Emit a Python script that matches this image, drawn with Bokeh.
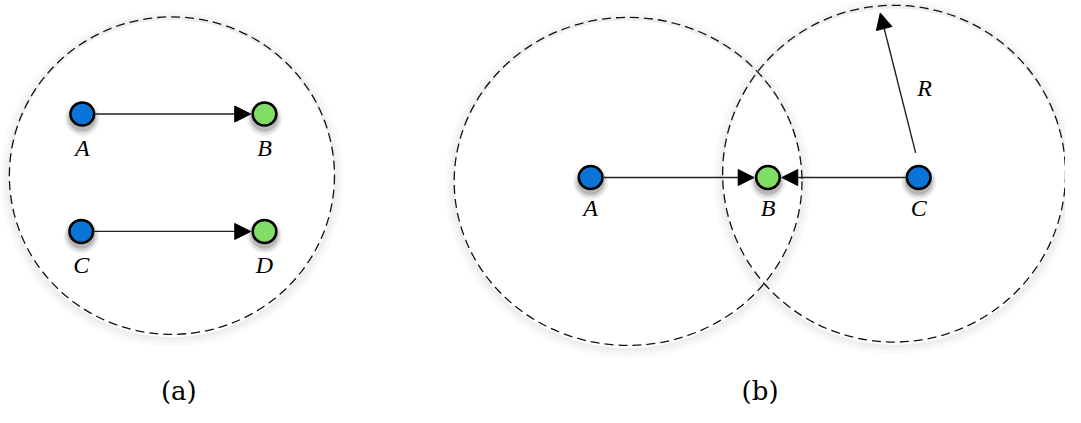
from bokeh.plotting import figure
from bokeh.models import ColumnDataSource, Arrow, NormalHead, Range1d
from bokeh.core.properties import value
from bokeh.embed import file_html
from bokeh.resources import INLINE

# ---- data (reference pixel coordinates, y downward) ----
ring_x = [174, 637, 907]
ring_y = [182, 188, 180]
ring_w = [330, 353, 348]
ring_h = [330, 341, 350]

node_names = ["A", "B", "C", "D", "A", "B", "C"]
node_x = [83, 268, 82, 268, 599, 779, 932]
node_y = [118, 118, 240, 240, 184, 184, 184]
node_kind = ["src", "dst", "src", "dst", "src", "dst", "src"]
label_dy = [35, 35, 35, 35, 32, 32, 32]

edge_from = [0, 2, 4, 6]
edge_to = [1, 3, 5, 5]

radius_from = [932, 171]
radius_to = [893, 13]
radius_label = ["R"]
radius_label_xy = [938, 91]

panel_labels = ["(a)", "(b)"]
panel_x = [181, 771]
panel_y = [406, 406]

BLUE = "#0a74d8"
GREEN = "#80de66"
NODE_R = 13

W, H = 1065, 407
p = figure(width=W, height=H, output_backend="svg", toolbar_location=None,
           x_range=Range1d(0, 1081), y_range=Range1d(423, 0), min_border=0)
p.axis.visible = False
p.grid.visible = False
p.outline_line_color = None
p.background_fill_color = "white"
p.border_fill_color = "white"

# soft halo for rings
for extra, lw, col in [(10, 9, "#fafafa"), (6, 6, "#f4f4f4"), (3, 3, "#eeeeee")]:
    p.ellipse(x=ring_x, y=[y + 3 for y in ring_y],
              width=[w + extra for w in ring_w], height=[h + extra for h in ring_h],
              fill_color=None, line_color=col, line_width=lw)
# dashed rings
p.ellipse(x=ring_x, y=ring_y, width=ring_w, height=ring_h, fill_color=None,
          line_color="#111111", line_width=1.3, line_dash="9 5")

# edges
def shorten(x0, y0, x1, y1, d0, d1):
    import math
    L = math.hypot(x1 - x0, y1 - y0)
    ux, uy = (x1 - x0) / L, (y1 - y0) / L
    return x0 + ux * d0, y0 + uy * d0, x1 - ux * d1, y1 - uy * d1

ex0, ey0, ex1, ey1 = [], [], [], []
for a, b in zip(edge_from, edge_to):
    s = shorten(node_x[a], node_y[a], node_x[b], node_y[b], NODE_R, NODE_R + 1)
    ex0.append(s[0]); ey0.append(s[1]); ex1.append(s[2]); ey1.append(s[3])
esrc = ColumnDataSource(dict(x0=ex0, y0=ey0, x1=ex1, y1=ey1))
p.add_layout(Arrow(source=esrc, x_start="x0", y_start="y0", x_end="x1", y_end="y1",
                   line_color="#222222", line_width=1.4,
                   end=NormalHead(size=16, fill_color="black", line_color="black", line_width=1)))

rs = shorten(radius_from[0], radius_from[1], radius_to[0], radius_to[1], NODE_R, 0)
p.add_layout(Arrow(x_start=rs[0], y_start=rs[1], x_end=rs[2], y_end=rs[3],
                   line_color="#222222", line_width=1.4,
                   end=NormalHead(size=16, fill_color="black", line_color="black", line_width=1)))

# node shadows
for dy, r, a in [(5, 18, 0.07), (4.5, 16, 0.12), (4, 14, 0.2)]:
    p.ellipse(x=node_x, y=[y + dy for y in node_y], width=2 * r, height=2 * r,
              fill_color="#333333", fill_alpha=a, line_color=None)

# nodes
cols = [BLUE if k == "src" else GREEN for k in node_kind]
p.ellipse(x=node_x, y=node_y, width=2 * NODE_R - 2, height=2 * NODE_R - 2,
          fill_color=cols, line_color="black", line_width=2.5)

# labels
p.text(x=node_x, y=[y + d for y, d in zip(node_y, label_dy)], text=node_names,
       text_font=value("Liberation Serif"), text_font_style="italic",
       text_font_size="24px", text_align="center", text_baseline="middle",
       text_color="black")
p.text(x=[radius_label_xy[0]], y=[radius_label_xy[1]], text=radius_label,
       text_font=value("Liberation Serif"), text_font_style="italic",
       text_font_size="24px", text_align="center", text_baseline="middle",
       text_color="black")
p.text(x=panel_x, y=panel_y, text=panel_labels,
       text_font=value("DejaVu Serif"), text_font_size="26px",
       text_align="center", text_baseline="middle", text_color="black")

open("out.html", "w").write(file_html(p, INLINE))
